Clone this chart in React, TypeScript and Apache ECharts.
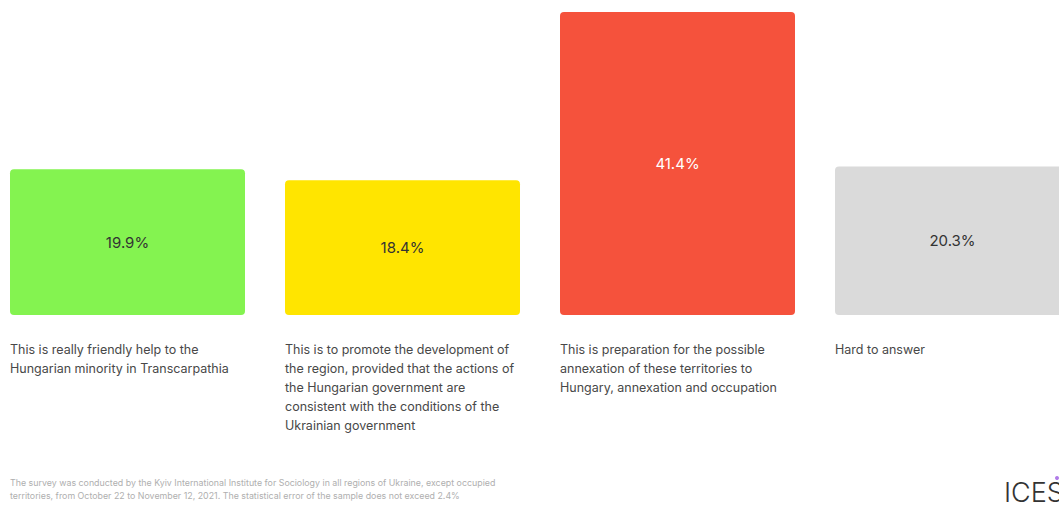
import React, { useEffect, useRef } from "react";
import * as echarts from "echarts";

const categories = [
  "This is really friendly help to the\nHungarian minority in Transcarpathia",
  "This is to promote the development of\nthe region, provided that the actions of\nthe Hungarian government are\nconsistent with the conditions of the\nUkrainian government",
  "This is preparation for the possible\nannexation of these territories to\nHungary, annexation and occupation",
  "Hard to answer",
];
const values = [19.9, 18.4, 41.4, 20.3];
const barColors = ["#84F350", "#FFE500", "#F5523C", "#DADADA"];
const labelColors = ["#333333", "#333333", "#FFFFFF", "#333333"];
const footnote =
  "The survey was conducted by the Kyiv International Institute for Sociology in all regions of Ukraine, except occupied\nterritories, from October 22 to November 12, 2021. The statistical error of the sample does not exceed 2.4%";

export default function App() {
  const ref = useRef<HTMLDivElement>(null);
  useEffect(() => {
    if (!ref.current) return;
    const chart = echarts.init(ref.current, undefined, { renderer: "svg" });
    chart.setOption({
      animation: false,
      grid: { left: 127.5, right: 106.5, top: 7.6, height: 307.4 },
      xAxis: {
        type: "category",
        data: categories,
        boundaryGap: false,
        axisLine: { show: false },
        axisTick: { show: false },
        axisLabel: { show: false },
        splitLine: { show: false },
      },
      yAxis: { type: "value", min: 0, max: 42, show: false, splitLine: { show: false } },
      series: [
        {
          type: "bar",
          barWidth: 235,
          data: values.map((v, i) => ({
            value: v,
            itemStyle: { color: barColors[i], borderRadius: 4 },
            label: { color: labelColors[i] },
          })),
          label: {
            show: true,
            position: "inside",
            formatter: (p: any) => p.value.toFixed(1) + "%",
            fontFamily: "Inter",
            fontSize: 15,
            fontWeight: 400,
          },
        },
        {
          type: "bar",
          barWidth: 235,
          barGap: "-100%",
          silent: true,
          data: values,
          itemStyle: { color: "rgba(0,0,0,0)" },
          label: {
            show: true,
            position: [0, "100%"],
            align: "left",
            verticalAlign: "top",
            offset: [0, 24.5],
            formatter: "{b}",
            fontFamily: "Inter",
            fontSize: 12.5,
            lineHeight: 19,
            color: "#484848",
          },
        },
      ],
      graphic: [
        {
          type: "text",
          left: 10,
          top: 476,
          style: {
            text: footnote,
            fontFamily: "Inter",
            fontSize: 8.85,
            lineHeight: 13,
            fill: "#AFAFAF",
          },
        },
        {
          type: "text",
          x: 1004,
          y: 492,
          style: {
            text: "ICES",
            fontFamily: "Inter",
            fontSize: 27,
            fontWeight: 300,
            fill: "#333333",
            verticalAlign: "middle",
            align: "left",
          },
        },
        {
          type: "circle",
          shape: { cx: 1057, cy: 478, r: 2 },
          style: { fill: "#B07CE8" },
        },
      ],
    });
    return () => chart.dispose();
  }, []);
  return (
    <div
      ref={ref}
      style={{ position: "fixed", left: 0, top: 0, width: 1059, height: 519, background: "#fff" }}
    />
  );
}
